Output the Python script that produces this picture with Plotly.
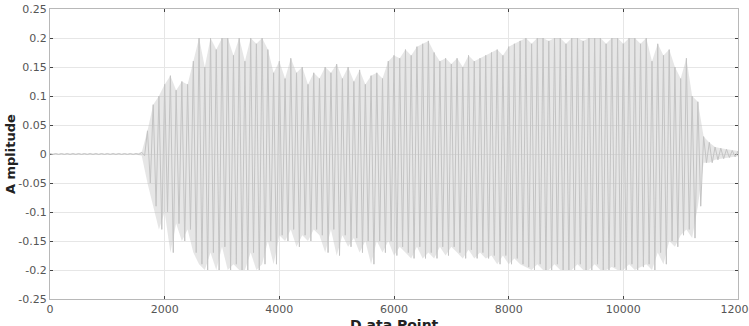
import plotly.graph_objects as go

# Envelope of the waveform, every 100 data points (0..12000)
step = 100
upper = [0.0008]*16 + [
    0.003, 0.04, 0.085, 0.10, 0.12, 0.135, 0.11, 0.125, 0.12, 0.16,
    0.2, 0.15, 0.2, 0.18, 0.2, 0.2, 0.17, 0.2, 0.16, 0.2,
    0.19, 0.2, 0.18, 0.14, 0.16, 0.13, 0.165, 0.14, 0.15, 0.12,
    0.14, 0.13, 0.15, 0.14, 0.155, 0.13, 0.15, 0.125, 0.145, 0.12,
    0.135, 0.14, 0.13, 0.16, 0.17, 0.165, 0.18, 0.17, 0.185, 0.19,
    0.195, 0.175, 0.16, 0.165, 0.155, 0.165, 0.15, 0.17, 0.16, 0.165,
    0.17, 0.175, 0.18, 0.17, 0.185, 0.19, 0.195, 0.2, 0.19, 0.2,
    0.2, 0.195, 0.2, 0.2, 0.19, 0.2, 0.2, 0.195, 0.2, 0.2,
    0.2, 0.19, 0.2, 0.2, 0.19, 0.2, 0.2, 0.19, 0.2, 0.16,
    0.19, 0.17, 0.18, 0.15, 0.13, 0.165, 0.1, 0.09, 0.03,
    0.02, 0.012, 0.01, 0.008, 0.006, 0.005]
lower = [-0.0008]*16 + [
    -0.003, -0.05, -0.09, -0.13, -0.10, -0.17, -0.12, -0.15, -0.13, -0.17,
    -0.19, -0.2, -0.17, -0.2, -0.16, -0.2, -0.19, -0.2, -0.2, -0.17,
    -0.2, -0.19, -0.15, -0.19, -0.14, -0.15, -0.13, -0.16, -0.14, -0.15,
    -0.13, -0.14, -0.17, -0.13, -0.175, -0.14, -0.16, -0.145, -0.17, -0.15,
    -0.19, -0.15, -0.17, -0.15, -0.175, -0.16, -0.17, -0.18, -0.16, -0.18,
    -0.17, -0.18, -0.16, -0.175, -0.16, -0.17, -0.18, -0.165, -0.18, -0.17,
    -0.18, -0.175, -0.19, -0.175, -0.19, -0.18, -0.19, -0.195, -0.2, -0.19,
    -0.2, -0.2, -0.19, -0.2, -0.2, -0.2, -0.19, -0.2, -0.2, -0.19,
    -0.2, -0.2, -0.195, -0.2, -0.2, -0.19, -0.2, -0.195, -0.19, -0.2,
    -0.17, -0.19, -0.15, -0.16, -0.14, -0.13, -0.145, -0.09, -0.015,
    -0.015, -0.01, -0.008, -0.006, -0.005, -0.004]

x_ticks = [0, 2000, 4000, 6000, 8000, 10000, 12000]
y_ticks = [-0.25, -0.2, -0.15, -0.1, -0.05, 0, 0.05, 0.1, 0.15, 0.2, 0.25]
y_labels = ["-0.25", "-0.2", "-0.15", "-0.1", "-0.05", "0", "0.05", "0.1", "0.15", "0.2", "0.25"]

pos = [i*step for i in range(len(upper))]

xs, ys = [], []
for p, u, l in zip(pos, upper, lower):
    xs += [p, p + step/2]
    ys += [u, l]

fig = go.Figure()
# light band covered by the dense oscillation
fig.add_trace(go.Scatter(x=pos + pos[::-1], y=upper + lower[::-1], mode="lines",
                         fill="toself", fillcolor="rgba(190,190,190,0.38)",
                         line=dict(width=0), showlegend=False, hoverinfo="skip"))
fig.add_trace(go.Scatter(x=xs, y=ys, mode="lines",
                         line=dict(color="#c4c4c4", width=1), showlegend=False))

axis_common = dict(showline=True, linecolor="#b8b8b8", linewidth=1, mirror="ticks",
                   ticks="inside", ticklen=3, tickcolor="#444",
                   gridcolor="#e6e6e6", gridwidth=1, zeroline=False, layer="below traces",
                   ticklabeloverflow="allow", automargin=False,
                   tickfont=dict(family="DejaVu Sans", size=11, color="#555"))

fig.update_xaxes(range=[0, 12000], tickvals=x_ticks,
                 ticktext=[str(v) for v in x_ticks], **axis_common)
fig.update_yaxes(range=[-0.25, 0.25], tickvals=y_ticks, ticktext=y_labels,
                 **axis_common)

fig.add_annotation(text="<b>D ata Point</b>", xref="paper", yref="paper",
                   x=0.5, y=-0.088, xanchor="center", yanchor="middle", showarrow=False,
                   font=dict(family="DejaVu Sans", size=14, color="#222"))
fig.add_annotation(text="<b>A mplitude</b>", xref="paper", yref="paper",
                   x=-0.058, y=0.5, xanchor="center", yanchor="middle", showarrow=False,
                   textangle=-90,
                   font=dict(family="DejaVu Sans", size=13, color="#222"))

fig.update_layout(width=749, height=326, margin=dict(l=50, r=11, t=9, b=27, autoexpand=False),
                  plot_bgcolor="white", paper_bgcolor="white")

fig.write_html("out.html")
